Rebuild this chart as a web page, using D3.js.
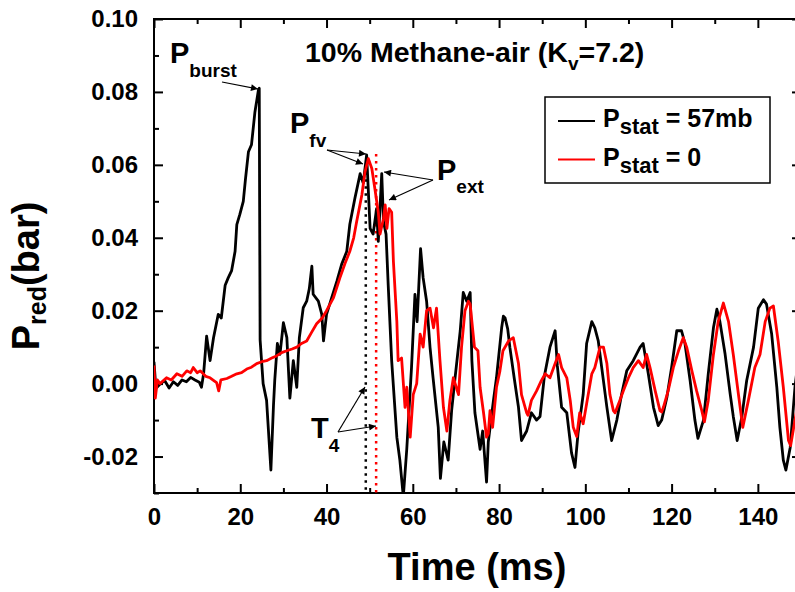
<!DOCTYPE html>
<html lang="en">
<head>
    <meta charset="UTF-8">
    <title>10% Methane-air pressure traces</title>
    <script src="https://cdnjs.cloudflare.com/ajax/libs/d3/7.8.5/d3.min.js"></script>
    <style>
        body { margin: 0; background: #fff; }
        svg { display: block; font-family: Arial, "Liberation Sans", sans-serif; font-weight: bold; }
    </style>
</head>
<body>
    <svg id="chart" width="795" height="592"></svg>
    <script>
        // P_stat = 57mb trace (black)
        const blackT = [0, 0.3, 0.7, 1.5, 2.5, 3.5, 4.5, 5.5, 6.5, 7.5, 8.5, 9.5, 10.5, 11, 11.5, 12.2, 13, 13.8, 14.9, 15.6,
            16.5, 17.2, 18, 18.8, 19.2, 19.9, 20.7, 21.2, 21.9, 22.6, 23.4, 24.2, 24.4, 24.6, 25.3, 26.1, 27.1, 27.7, 28, 28.6,
            29.2, 30, 30.8, 31.5, 32.3, 33.1, 33.7, 34.6, 35.4, 36, 36.6, 36.9, 38.1, 38.9, 39.3, 40, 41.2, 42.4, 43.5, 44.7,
            45.4, 46.6, 47.8, 48.5, 49.3, 50.1, 50.8, 51.6, 52, 52.8, 53.2, 53.8, 54.3, 55.1, 56.3, 57, 57.8, 58.6, 59.7, 60.5,
            61, 61.8, 62.4, 63.2, 64, 64.7, 65.9, 66.4, 67.2, 68.2, 69, 69.8, 71, 71.7, 72.5, 73.3, 73.7, 74.4, 75.6, 76.2,
            77.1, 77.5, 78.7, 79.4, 80.6, 81, 81.4, 82, 82.5, 83.5, 84.5, 85.2, 86.4, 87.5, 88.7, 89.5, 90.5, 91.8, 93, 93.5,
            94.5, 95.7, 96.8, 97.6, 98.3, 99.5, 100.3, 101.5, 102.2, 103, 103.8, 105, 106.1, 107.3, 108.4, 109.6, 111.1, 112.7, 113.4, 114.6,
            115.8, 116.9, 117.7, 118.9, 120, 121.2, 122.3, 123.1, 124.3, 125.4, 126.1, 127.4, 128.5, 129.7, 130.5, 131.2, 132.4, 133.6, 134.3, 135.2,
            136.3, 137.4, 139, 140.1, 141.3, 142, 143.2, 144.4, 145.1, 145.9, 146.5, 147.5, 148.6, 149.5];
        const blackP = [0.006, 0.001, -0.001, 0, 0.0008, -0.0012, 0.0005, -0.0005, 0.001, 0.0005, 0.0017, 0.001, 0.0004, -0.001, 0.0027, 0.013, 0.0063, 0.0126, 0.019, 0.018,
            0.027, 0.029, 0.031, 0.0363, 0.0436, 0.0464, 0.05, 0.056, 0.0636, 0.0655, 0.0745, 0.0805, 0.081, 0.012, 0, -0.0046, -0.0237, -0.006, 0.001, 0.011,
            0.008, 0.0167, 0.0126, -0.004, 0.0063, -0.001, 0.0126, 0.0208, 0.0226, 0.026, 0.0322, 0.0245, 0.0226, 0.019, 0.0117, 0.019, 0.0236, 0.0281, 0.0327, 0.0363,
            0.0437, 0.051, 0.0576, 0.055, 0.0627, 0.0426, 0.041, 0.048, 0.039, 0.0576, 0.0445, 0.041, 0.027, 0.0063, -0.0147, -0.021, -0.031, -0.018, 0.0044, 0.0245,
            0.017, 0.037, 0.029, 0.0226, 0.0099, 0.0016, -0.012, -0.026, -0.016, -0.021, -0.0074, 0.0016, 0.0145, 0.025, 0.0226, 0.025, 0.0063, -0.008, -0.018, -0.013,
            -0.027, -0.016, -0.0046, 0.0016, 0.0153, 0.0185, 0.018, 0.015, 0.01, 0.0016, -0.0065, -0.0156, -0.013, -0.008, -0.01, -0.009, 0.002, 0.01, 0.0145, 0.005,
            -0.0065, -0.008, -0.019, -0.023, -0.0137, -0.003, 0.011, 0.017, 0.0153, 0.0117, 0.0044, -0.0065, -0.0156, -0.01, -0.003, 0.0035, 0.0063, 0.01, 0.011, 0.0027,
            -0.0065, -0.0115, -0.01, -0.0038, 0.0044, 0.0145, 0.0145, 0.011, 0.0008, -0.01, -0.015, -0.01, 0.0027, 0.0153, 0.0204, 0.017, 0.0081, -0.003, -0.009, -0.0156,
            -0.009, 0.0008, 0.01, 0.0207, 0.023, 0.0218, 0.0136, -0.0011, -0.012, -0.021, -0.0237, -0.0175, -0.001, 0.008];

        // P_stat = 0 trace (red)
        const redT = [0, 0.3, 0.8, 1.4, 2.9, 4, 5.3, 6.5, 7.6, 8.5, 9.1, 10, 10.7, 12, 13, 14.5, 15, 15.5, 16.9, 18,
            19.2, 20.3, 21.5, 22.6, 23.8, 25, 26.1, 27.3, 28.4, 29.6, 30.8, 32, 33.1, 34.2, 35.4, 36.5, 37.7, 39, 40, 41.6,
            43.1, 44.3, 45.4, 46.3, 47, 48.2, 48.9, 49.7, 50.5, 51.2, 52, 52.4, 53.2, 53.6, 54, 54.5, 55.1, 55.5, 56.3, 56.6,
            57.4, 58.2, 58.6, 59.4, 60.1, 60.9, 61.7, 62.4, 63.2, 64, 64.8, 65.5, 66.3, 67.1, 67.9, 68.6, 69.4, 70.6, 71.3, 72.1,
            72.9, 73.3, 73.7, 74.3, 75.1, 75.6, 76.4, 77.1, 77.5, 77.9, 78.5, 79.4, 80.2, 80.9, 82.2, 83.3, 84.5, 85.2, 86.4, 86.7,
            87.5, 88.7, 89.8, 90.7, 91.8, 93, 93.8, 94.5, 95.7, 96.5, 97.2, 98, 98.7, 99.5, 100.3, 101.5, 102.2, 103.4, 104.2, 105,
            105.7, 106.5, 106.9, 108, 108.8, 110, 111.1, 112.3, 113.4, 114.2, 115, 116.2, 117.3, 117.7, 118.1, 119.2, 120.4, 121.6, 122.7, 123.5,
            124.7, 125.8, 127, 127.6, 128.5, 129.7, 130.8, 132, 133.2, 134.3, 135.5, 136.5, 137.8, 139.3, 140.5, 141.7, 142.8, 143.6, 144.7, 145.9,
            147.1, 147.6, 148.6, 149.5];
        const redP = [0.005, -0.004, 0.001, 0, 0.0016, 0.001, 0.0027, 0.002, 0.0035, 0.003, 0.0044, 0.003, 0.0035, 0.002, 0.0016, 0.0003, -0.002, 0.001, 0.0014, 0.002,
            0.0027, 0.003, 0.004, 0.0045, 0.0055, 0.006, 0.0063, 0.007, 0.0076, 0.0085, 0.009, 0.0095, 0.01, 0.011, 0.0117, 0.014, 0.0164, 0.018, 0.02, 0.0235,
            0.029, 0.033, 0.0363, 0.04, 0.0445, 0.0518, 0.058, 0.0617, 0.059, 0.0535, 0.047, 0.041, 0.0453, 0.049, 0.0426, 0.048, 0.047, 0.0336, 0.017, 0.0063,
            0.007, -0.0065, -0.001, -0.0147, -0.003, 0, 0.0136, 0.01, 0.02, 0.0207, 0.0153, 0.0207, 0.0063, -0.0065, -0.013, -0.0046, 0.0016, -0.003, 0.01, 0.02,
            0.0226, 0.0218, 0.017, 0.01, 0.009, -0.001, -0.008, -0.0147, -0.0137, -0.0074, -0.012, -0.001, 0.0035, 0.009, 0.0117, 0.0126, 0.0055, -0.003, -0.008, -0.0087,
            -0.0046, -0.002, 0.0008, 0.0027, 0.0016, 0.0055, 0.008, 0.0044, 0.0016, -0.0046, -0.012, -0.0145, -0.008, -0.011, -0.0055, 0.0027, 0.0044, 0.01, 0.01, 0.0055,
            -0.003, -0.0074, -0.008, -0.0046, -0.002, 0.0016, 0.0044, 0.0063, 0.0044, 0.008, 0.0044, -0.002, -0.0074, -0.0078, -0.0065, -0.002, 0.0044, 0.009, 0.0126, 0.01,
            0.0035, -0.002, -0.0074, -0.0105, -0.0046, 0.008, 0.017, 0.0221, 0.017, 0.008, -0.003, -0.012, -0.0046, 0.0044, 0.008, 0.017, 0.0207, 0.0213, 0.0117, -0.001,
            -0.0156, -0.017, -0.01, -0.004];

        // T4 markers: [time, top pressure]
        const t4Black = [49.1, 0.058];
        const t4Red = [51.5, 0.063];

        const xTicks = [0, 20, 40, 60, 80, 100, 120, 140];
        const xMinor = [10, 30, 50, 70, 90, 110, 130, 150];
        const yTicks = [-0.02, 0, 0.02, 0.04, 0.06, 0.08, 0.10];
        const yMinor = [-0.03, -0.01, 0.01, 0.03, 0.05, 0.07, 0.09];

        const svg = d3.select("#chart");
        const mLeft = 154, mRight = 801, mTop = 19, mBottom = 493;

        const x = d3.scaleLinear().domain([0, 150]).range([mLeft, mRight]);
        const y = d3.scaleLinear().domain([-0.03, 0.10]).range([mBottom, mTop]);

        const defs = svg.append("defs");
        defs.append("clipPath").attr("id", "plot")
            .append("rect").attr("x", mLeft).attr("y", mTop)
            .attr("width", mRight - mLeft).attr("height", mBottom - mTop);

        defs.append("marker")
            .attr("id", "arrow")
            .attr("viewBox", "0 0 10 10")
            .attr("refX", 10).attr("refY", 5)
            .attr("markerWidth", 9).attr("markerHeight", 7)
            .attr("markerUnits", "userSpaceOnUse")
            .attr("orient", "auto")
            .append("path").attr("d", "M0,0 L10,5 L0,10 Z").attr("fill", "#000");

        // axes: majors with labels, minors without, ticks pointing inward
        function styleAxis(g) {
            g.select(".domain").remove();
            g.selectAll("line").attr("stroke", "#000").attr("stroke-width", 2);
            g.selectAll("text").attr("font-size", 24).attr("font-weight", "bold")
                .attr("font-family", "Arial, 'Liberation Sans', sans-serif").attr("fill", "#000");
        }
        const yFmt = d => d3.format(".2f")(d).replace("\u2212", "-");

        svg.append("g").attr("transform", `translate(0,${mBottom})`)
            .call(d3.axisBottom(x).tickValues(xTicks).tickSize(-9).tickPadding(15).tickFormat(d3.format("d")))
            .call(styleAxis);
        svg.append("g").attr("transform", `translate(0,${mBottom})`)
            .call(d3.axisBottom(x).tickValues(xMinor).tickSize(-5).tickFormat(""))
            .call(styleAxis);
        svg.append("g").attr("transform", `translate(0,${mTop})`)
            .call(d3.axisTop(x).tickValues(xTicks).tickSize(-9).tickFormat(""))
            .call(styleAxis);
        svg.append("g").attr("transform", `translate(0,${mTop})`)
            .call(d3.axisTop(x).tickValues(xMinor).tickSize(-5).tickFormat(""))
            .call(styleAxis);

        svg.append("g").attr("transform", `translate(${mLeft},0)`)
            .call(d3.axisLeft(y).tickValues(yTicks).tickSize(-9).tickPadding(16).tickFormat(yFmt))
            .call(styleAxis);
        svg.append("g").attr("transform", `translate(${mLeft},0)`)
            .call(d3.axisLeft(y).tickValues(yMinor).tickSize(-5).tickFormat(""))
            .call(styleAxis);
        svg.append("g").attr("transform", `translate(${mRight},0)`)
            .call(d3.axisRight(y).tickValues(yTicks).tickSize(-9).tickFormat(""))
            .call(styleAxis);
        svg.append("g").attr("transform", `translate(${mRight},0)`)
            .call(d3.axisRight(y).tickValues(yMinor).tickSize(-5).tickFormat(""))
            .call(styleAxis);

        // frame
        svg.append("rect")
            .attr("x", mLeft).attr("y", mTop)
            .attr("width", mRight - mLeft).attr("height", mBottom - mTop)
            .attr("fill", "none").attr("stroke", "#000").attr("stroke-width", 2);

        const line = d3.line().x(d => x(d[0])).y(d => y(d[1]));
        const plot = svg.append("g").attr("clip-path", "url(#plot)");

        // T4 dotted markers
        [[t4Black, "#000"], [t4Red, "#ff0000"]].forEach(([m, c]) => {
            plot.append("line")
                .attr("x1", x(m[0])).attr("x2", x(m[0]))
                .attr("y1", y(m[1])).attr("y2", y(-0.03))
                .attr("stroke", c).attr("stroke-width", 2.5)
                .attr("stroke-dasharray", "2.5,4.5");
        });

        plot.append("path")
            .datum(d3.zip(blackT, blackP))
            .attr("d", line)
            .attr("fill", "none").attr("stroke", "#000")
            .attr("stroke-width", 2.8).attr("stroke-linejoin", "round");

        plot.append("path")
            .datum(d3.zip(redT, redP))
            .attr("d", line)
            .attr("fill", "none").attr("stroke", "#ff0000")
            .attr("stroke-width", 2.8).attr("stroke-linejoin", "round");

        // text with a subscript, optional text after it
        function label(xp, yp, main, sub, size, subSize, shift, rest) {
            const t = svg.append("text").attr("x", xp).attr("y", yp)
                .attr("font-size", size).attr("fill", "#000");
            t.append("tspan").text(main);
            t.append("tspan").attr("font-size", subSize).attr("dy", shift).text(sub);
            if (rest) t.append("tspan").attr("dy", -shift).text(rest);
            return t;
        }

        label(170, 63, "P", "burst", 29, 19, 14);
        label(290, 133, "P", "fv", 29, 19, 14);
        label(437, 180, "P", "ext", 29, 19, 13);
        label(311, 438, "T", "4", 29, 19, 14);
        label(305, 62, "10% Methane-air (K", "v", 28.5, 19, 8, "=7.2)");

        // arrows
        const arrows = [
            [222, 82, 258, 89],
            [327, 150, 366, 154],
            [327, 150, 363, 164],
            [433, 180, 384, 172],
            [433, 180, 389, 200],
            [338, 432, 365, 387],
            [338, 432, 376, 426]
        ];
        svg.selectAll("line.arrow").data(arrows).enter().append("line")
            .attr("class", "arrow")
            .attr("x1", d => d[0]).attr("y1", d => d[1])
            .attr("x2", d => d[2]).attr("y2", d => d[3])
            .attr("stroke", "#000").attr("stroke-width", 1.2)
            .attr("marker-end", "url(#arrow)");

        // legend
        svg.append("rect")
            .attr("x", 545).attr("y", 97).attr("width", 225).attr("height", 86)
            .attr("fill", "#fff").attr("stroke", "#000").attr("stroke-width", 1.5);
        const legend = [["57mb", "#000"], ["0", "#ff0000"]];
        legend.forEach(([v, c], i) => {
            const ly = 121 + i * 38.5;
            svg.append("line").attr("x1", 558).attr("x2", 595).attr("y1", ly).attr("y2", ly)
                .attr("stroke", c).attr("stroke-width", 2);
            label(603, ly + 6, "P", "stat", 25, 22, 7, " = " + v);
        });

        // axis titles
        svg.append("text")
            .attr("x", 477).attr("y", 580)
            .attr("text-anchor", "middle")
            .attr("font-size", 38).attr("fill", "#000")
            .text("Time (ms)");

        const yt = svg.append("text")
            .attr("transform", "translate(39,276) rotate(-90)")
            .attr("text-anchor", "middle")
            .attr("font-size", 38).attr("fill", "#000");
        yt.append("tspan").text("P");
        yt.append("tspan").attr("font-size", 25).attr("dy", 7).text("red");
        yt.append("tspan").attr("dy", -7).text("(bar)");
    </script>
</body>
</html>
